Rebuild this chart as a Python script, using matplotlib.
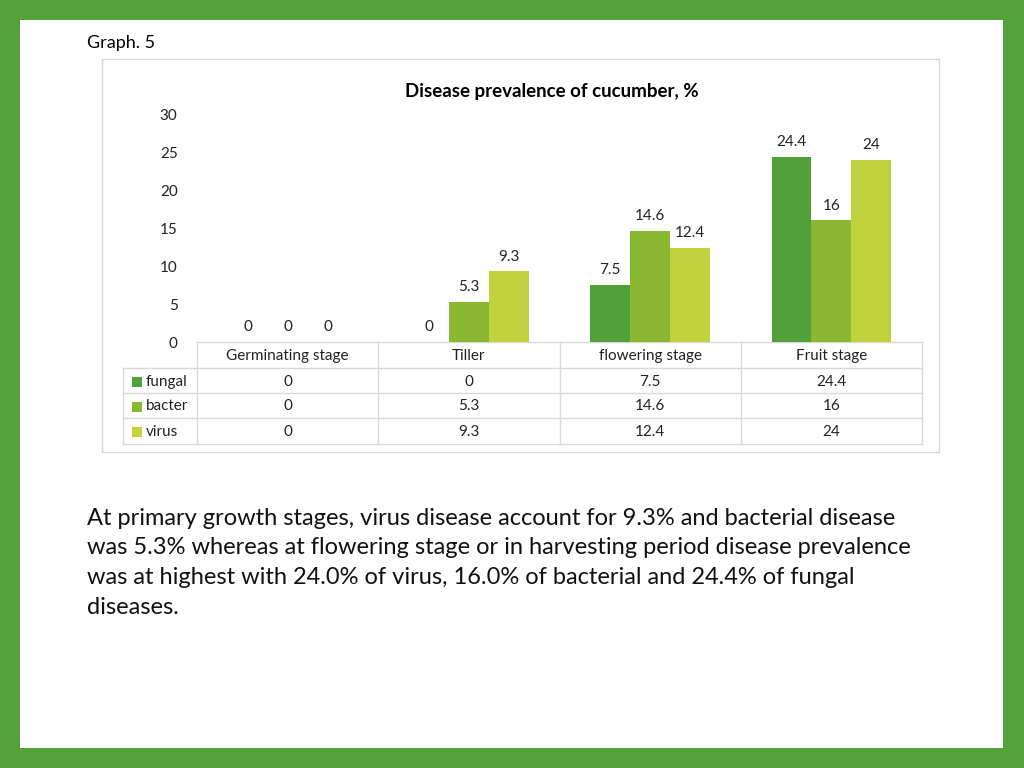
import matplotlib.pyplot as plt
from matplotlib.patches import Rectangle
import numpy as np

# data
stages = ['Germinating stage', 'Tiller', 'flowering stage', 'Fruit stage']
series = ['fungal', 'bacter', 'virus']
fungal = [0, 0, 7.5, 24.4]
bacter = [0, 5.3, 14.6, 16]
virus = [0, 9.3, 12.4, 24]
colors = ['#52A03A', '#8AB833', '#C0D23C']
yticks = [0, 5, 10, 15, 20, 25, 30]

W, H = 1024, 768
plt.rcParams['font.family'] = ['Lato', 'DejaVu Sans']
fs = 11

fig = plt.figure(figsize=(W / 100, H / 100), dpi=100)
fig.patch.set_facecolor('#55A33A')


def fx(px):
    return px / W


def fy(py):
    return 1 - py / H


# white slide area
fig.patches.append(Rectangle((fx(20), fy(748)), fx(983), 728 / H,
                             transform=fig.transFigure, facecolor='white',
                             edgecolor='none', zorder=-3))
# chart box
fig.patches.append(Rectangle((fx(102), fy(452)), fx(837), 393 / H,
                             transform=fig.transFigure, facecolor='white',
                             edgecolor='#D9D9D9', linewidth=1, zorder=-2))

fig.text(fx(87), fy(43), 'Graph. 5', fontsize=13, va='center', ha='left')

# plot area
left, right, top, bottom = 197, 922, 114, 342
ax = fig.add_axes([fx(left), fy(bottom), fx(right - left), (bottom - top) / H])
ax.set_zorder(2)
ax.set_facecolor('none')
x = np.arange(len(stages))
bw = 0.22
for i, (name, vals) in enumerate(zip(series, [fungal, bacter, virus])):
    bars = ax.bar(x + (i - 1) * bw, vals, width=bw, color=colors[i], label=name)
    for b, v in zip(bars, vals):
        ax.annotate(f'{v:g}', (b.get_x() + b.get_width() / 2, v),
                    xytext=(0, 5.5), textcoords='offset points',
                    ha='center', va='bottom', fontsize=fs, color='#222222')

ax.set_xlim(-0.5, len(stages) - 0.5)
ax.set_ylim(0, 30)
ax.set_yticks(yticks)
ax.set_yticklabels([str(t) for t in yticks], fontsize=fs, color='#222222')
ax.tick_params(axis='y', length=0, pad=14)
ax.set_xticks([])
for s in ax.spines.values():
    s.set_visible(False)
ax.set_title('Disease prevalence of cucumber, %', fontsize=13.5,
             fontweight='bold', pad=12, x=0.49)

# data table below the axis
grid_c = '#D9D9D9'
col_edges = np.linspace(left, right, len(stages) + 1)
row_edges = [342, 368, 393, 418, 444]
label_left = 123
for k, yy in enumerate(row_edges):
    x0 = left if k == 0 else label_left
    fig.add_artist(plt.Line2D([fx(x0), fx(right)], [fy(yy), fy(yy)],
                              color=grid_c, lw=1))
for xx in col_edges:
    fig.add_artist(plt.Line2D([fx(xx), fx(xx)], [fy(row_edges[0]), fy(row_edges[-1])],
                              color=grid_c, lw=1))
fig.add_artist(plt.Line2D([fx(label_left), fx(label_left)],
                          [fy(row_edges[1]), fy(row_edges[-1])], color=grid_c, lw=1))

for j, st in enumerate(stages):
    cx = (col_edges[j] + col_edges[j + 1]) / 2
    fig.text(fx(cx), fy((row_edges[0] + row_edges[1]) / 2 + 1), st,
             ha='center', va='center', fontsize=fs, color='#222222')

for r, (name, vals) in enumerate(zip(series, [fungal, bacter, virus])):
    cy = (row_edges[r + 1] + row_edges[r + 2]) / 2 + 1
    fig.patches.append(Rectangle((fx(132), fy(cy + 5)), fx(10), 10 / H,
                                 transform=fig.transFigure, facecolor=colors[r],
                                 edgecolor='none'))
    fig.text(fx(146), fy(cy), name, ha='left', va='center', fontsize=fs,
             color='#222222')
    for j, v in enumerate(vals):
        cx = (col_edges[j] + col_edges[j + 1]) / 2
        fig.text(fx(cx), fy(cy), f'{v:g}', ha='center', va='center',
                 fontsize=fs, color='#222222')

para = ('At primary growth stages, virus disease account for 9.3% and bacterial disease\n'
        'was 5.3% whereas at flowering stage or in harvesting period disease prevalence\n'
        'was at highest with 24.0% of virus, 16.0% of bacterial and 24.4% of fungal\n'
        'diseases.')
fig.text(fx(87), fy(508), para, ha='left', va='top', fontsize=17,
         linespacing=1.5, color='#111111')

fig.savefig('out.png', dpi=100, facecolor=fig.get_facecolor())
